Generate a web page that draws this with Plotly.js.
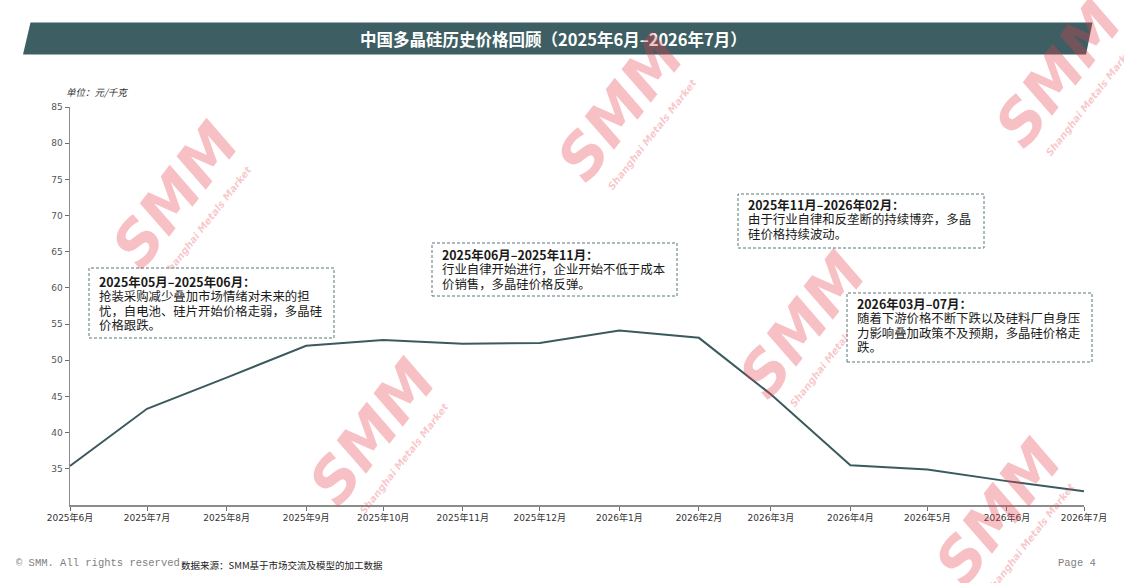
<!DOCTYPE html>
<html>
<head>
<meta charset="utf-8">
<script src="https://cdn.plot.ly/plotly-3.0.1.min.js"></script>
<style>
html,body{margin:0;padding:0;background:#fff;}
#chart{width:1124px;height:583px;}
</style>
</head>
<body>
<div id="chart"></div>
<script>
// ---------- data ----------
const months = ['2025-06-01','2025-07-01','2025-08-01','2025-09-01','2025-10-01','2025-11-01','2025-12-01',
                '2026-01-01','2026-02-01','2026-03-01','2026-04-01','2026-05-01','2026-06-01','2026-07-01'];
const tickLabels = ['2025年6月','2025年7月','2025年8月','2025年9月','2025年10月','2025年11月','2025年12月',
                    '2026年1月','2026年2月','2026年3月','2026年4月','2026年5月','2026年6月','2026年7月'];
const prices = [35.4, 43.3, 47.6, 52.0, 52.8, 52.3, 52.4, 54.1, 53.1, 45.3, 35.5, 34.9, 33.3, 31.9];
const yTicks = [35, 40, 45, 50, 55, 60, 65, 70, 75, 80, 85];

const chartTitle = '中国多晶硅历史价格回顾（2025年6月–2026年7月）';
const unitLabel = '单位：元/千克';
const noteHeads = ['2025年05月–2025年06月：','2025年06月–2025年11月：','2025年11月–2026年02月：','2026年03月–07月：'];
const noteBodies = [
  ['抢装采购减少叠加市场情绪对未来的担','忧，自电池、硅片开始价格走弱，多晶硅','价格跟跌。'],
  ['行业自律开始进行，企业开始不低于成本','价销售，多晶硅价格反弹。'],
  ['由于行业自律和反垄断的持续博弈，多晶','硅价格持续波动。'],
  ['随着下游价格不断下跌以及硅料厂自身压','力影响叠加政策不及预期，多晶硅价格走','跌。']
];
const sourceText = '数据来源：SMM基于市场交流及模型的加工数据';
const copyrightText = '© SMM. All rights reserved.';
const pageText = 'Page 4';
const wmMain = 'SMM';
const wmSub = 'Shanghai Metals Market';

// ---------- layout helpers ----------
const W = 1124, H = 583;
const M = {l:70, r:40, t:107, b:78};
const PW = W - M.l - M.r, PH = H - M.t - M.b;
const px = x => (x - M.l) / PW;
const py = y => (H - M.b - y) / PH;

const lineColor = '#3b5a5e';
const cjk = '"DejaVu Sans", "Noto Sans CJK SC", sans-serif';
const cjkText = '"Noto Sans CJK SC", "DejaVu Sans", sans-serif';

const shapes = [];
const annotations = [];

// title banner (parallelogram) + title text
shapes.push({
  type:'path', xref:'paper', yref:'paper', layer:'below',
  path:`M ${px(30.5)} ${py(22.5)} L ${px(1092.5)} ${py(22.5)} L ${px(1086)} ${py(54.5)} L ${px(23)} ${py(54.5)} Z`,
  fillcolor:'#3d5e62', line:{width:0}
});
annotations.push({
  xref:'paper', yref:'paper', x:px(553), y:py(39), xanchor:'center', yanchor:'middle',
  text:'<b>'+chartTitle+'</b>', showarrow:false,
  font:{family:cjkText, size:16.5, color:'#ffffff'}
});

// watermarks (drawn before the note boxes so the boxes cover them)
const marks = [[175,195],[620,108],[372,432],[802,325],[1058,74],[998,512]];
marks.forEach(m => {
  annotations.push({
    xref:'paper', yref:'paper', x:px(m[0]), y:py(m[1]), xanchor:'center', yanchor:'middle',
    text:'<b><i>'+wmMain+'</i></b>', showarrow:false, textangle:-52,
    font:{family:'"DejaVu Sans", sans-serif', size:60, color:'rgba(232,64,78,0.33)'}
  });
  annotations.push({
    xref:'paper', yref:'paper', x:px(m[0]+32), y:py(m[1]+26), xanchor:'center', yanchor:'middle',
    text:'<b><i>'+wmSub+'</i></b>', showarrow:false, textangle:-52,
    font:{family:'"DejaVu Sans", sans-serif', size:10, color:'rgba(232,64,78,0.30)'}
  });
});

// note boxes
const boxes = [
  {x0:89,  x1:334,  y0:268, y1:338, h:282},
  {x0:432, x1:677,  y0:243, y1:296, h:255},
  {x0:738, x1:984,  y0:194, y1:248, h:205},
  {x0:847, x1:1092, y0:293, y1:362, h:304}
];
const lineStep = 14.4;
boxes.forEach((b,i) => {
  shapes.push({
    type:'rect', xref:'paper', yref:'paper', layer:'above',
    x0:px(b.x0), x1:px(b.x1), y0:py(b.y1), y1:py(b.y0),
    fillcolor:'#ffffff', line:{color:'#56777c', width:1, dash:'3px,2px'}
  });
  // white cover so the box hides the watermark behind it
  annotations.push({
    xref:'paper', yref:'paper', x:px((b.x0+b.x1)/2), y:py((b.y0+b.y1)/2),
    xanchor:'center', yanchor:'middle', showarrow:false, text:' ',
    width:b.x1-b.x0-2, height:b.y1-b.y0-2, bgcolor:'#ffffff', borderpad:0, borderwidth:0,
    font:{size:1, color:'#ffffff'}
  });
  annotations.push({
    xref:'paper', yref:'paper', x:px(b.x0+8), y:py(b.h), xanchor:'left', yanchor:'middle',
    align:'left', showarrow:false,
    text:'<b>'+noteHeads[i]+'</b>',
    font:{family:cjkText, size:12.4, color:'#1a1a1a'}
  });
  noteBodies[i].forEach((ln,k) => {
    annotations.push({
      xref:'paper', yref:'paper', x:px(b.x0+8), y:py(b.h + lineStep*(k+1)), xanchor:'left', yanchor:'middle',
      align:'left', showarrow:false,
      text:ln,
      font:{family:cjkText, size:12.4, color:'#1a1a1a'}
    });
  });
});

// unit label
annotations.push({
  xref:'paper', yref:'paper', x:px(64), y:py(92), xanchor:'left', yanchor:'middle',
  text:'<i>'+unitLabel+'</i>', showarrow:false,
  font:{family:cjkText, size:9.5, color:'#333333'}
});

// footer
annotations.push({
  xref:'paper', yref:'paper', x:px(14), y:py(563), xanchor:'left', yanchor:'middle',
  text:copyrightText, showarrow:false,
  font:{family:'"Liberation Mono", "DejaVu Sans Mono", monospace', size:10.5, color:'#7f7f7f'}
});
annotations.push({
  xref:'paper', yref:'paper', x:px(179), y:py(565), xanchor:'left', yanchor:'middle',
  text:sourceText, showarrow:false,
  font:{family:cjkText, size:9.5, color:'#222222'}
});
annotations.push({
  xref:'paper', yref:'paper', x:px(1098), y:py(563), xanchor:'right', yanchor:'middle',
  text:pageText, showarrow:false,
  font:{family:'"Liberation Mono", "DejaVu Sans Mono", monospace', size:10.5, color:'#7f7f7f'}
});

const trace = {
  x: months, y: prices, type:'scatter', mode:'lines',
  line:{color:lineColor, width:2}, hoverinfo:'x+y'
};

const layout = {
  width:W, height:H,
  margin:{l:M.l, r:M.r, t:M.t, b:M.b, pad:0},
  paper_bgcolor:'#ffffff', plot_bgcolor:'#ffffff',
  showlegend:false,
  xaxis:{
    type:'date', range:[months[0], months[months.length-1]],
    tickmode:'array', tickvals:months, ticktext:tickLabels,
    showgrid:false, zeroline:false,
    showline:true, linecolor:'#8c8c8c', linewidth:1.5,
    ticks:'outside', ticklen:4, tickcolor:'#6e6e6e', tickwidth:1,
    tickfont:{family:cjk, size:9, color:'#333333'}, tickangle:0
  },
  yaxis:{
    range:[30, 85], tickmode:'array', tickvals:yTicks,
    showgrid:false, zeroline:false,
    showline:true, linecolor:'#8c8c8c', linewidth:1.5,
    ticks:'outside', ticklen:4, tickcolor:'#6e6e6e', tickwidth:1,
    tickfont:{family:cjk, size:9, color:'#555555'}
  },
  shapes:shapes,
  annotations:annotations
};

Plotly.newPlot('chart', [trace], layout, {displayModeBar:false, staticPlot:true});
</script>
</body>
</html>
